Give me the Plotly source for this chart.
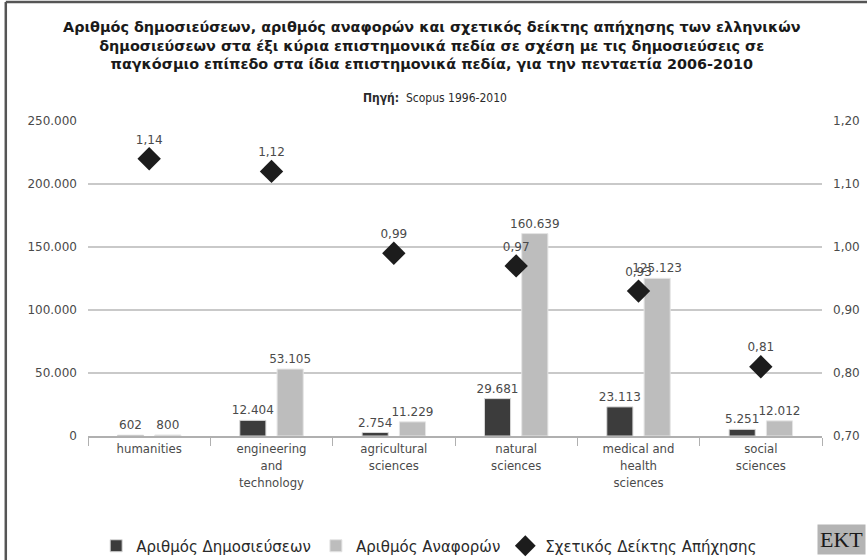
import plotly.graph_objects as go

# data
fields = ["humanities", "engineering<br>and<br>technology", "agricultural<br>sciences",
          "natural<br>sciences", "medical and<br>health<br>sciences", "social<br>sciences"]
publications = [602, 12404, 2754, 29681, 23113, 5251]
citations = [800, 53105, 11229, 160639, 125123, 12012]
impact_index = [1.14, 1.12, 0.99, 0.97, 0.93, 0.81]

left_ticks = [0, 50000, 100000, 150000, 200000, 250000]
right_ticks = [0.7, 0.8, 0.9, 1.0, 1.1, 1.2]

label_font = dict(family="DejaVu Sans", size=12, color="#4a4a4a")

fig = go.Figure()

fig.add_trace(go.Bar(
    x=fields, y=publications, name="Αριθμός Δημοσιεύσεων",
    marker=dict(color="#3c3c3c", line=dict(color="#d8d8d8", width=1)),
    text=publications, texttemplate="%{y:,.0f}", textposition="outside",
    constraintext="none", textfont=label_font, cliponaxis=False,
))
fig.add_trace(go.Bar(
    x=fields, y=citations, name="Αριθμός Αναφορών",
    marker=dict(color="#bdbdbd", line=dict(color="#e4e4e4", width=1)),
    text=citations, texttemplate="%{y:,.0f}", textposition="outside",
    constraintext="none", textfont=label_font, cliponaxis=False,
))
fig.add_trace(go.Scatter(
    x=fields, y=impact_index, name="Σχετικός Δείκτης Απήχησης", yaxis="y2",
    mode="markers+text", marker=dict(symbol="diamond", size=18, color="#1c1c1c"),
    text=[f"{v:.2f}".replace(".", ",") for v in impact_index],
    textposition="top center", textfont=label_font, cliponaxis=False,
))

title_text = ("<b>Αριθμός δημοσιεύσεων, αριθμός αναφορών και σχετικός δείκτης απήχησης των ελληνικών<br>"
              "δημοσιεύσεων στα έξι κύρια επιστημονικά πεδία σε σχέση με τις δημοσιεύσεις σε<br>"
              "παγκόσμιο επίπεδο στα ίδια επιστημονικά πεδία, για την πενταετία 2006-2010</b>")

fig.update_layout(
    width=867, height=560,
    margin=dict(l=88, r=45, t=121, b=124),
    paper_bgcolor="white", plot_bgcolor="white",
    separators=",.",
    barmode="group", bargap=0.39, bargroupgap=0.3,
    font=dict(family="DejaVu Sans", size=12, color="#4a4a4a"),
    title=dict(text=title_text, x=0.498, xanchor="center", y=0.943, yanchor="top",
               font=dict(family="DejaVu Sans", size=14.4, color="#1a1a1a")),
    xaxis=dict(showgrid=False, showline=True, linecolor="#b0b0b0", linewidth=1.5,
               ticks="outside", tickson="boundaries", ticklen=8, tickcolor="#b0b0b0",
               automargin=False,
               tickfont=dict(family="DejaVu Sans Condensed", size=13, color="#4a4a4a")),
    yaxis=dict(range=[0, 250000], tickvals=left_ticks, tickformat=",.0f",
               showgrid=True, gridcolor="#c9c9c9", gridwidth=1.5, zeroline=False,
               ticks="", ticklabelstandoff=10, automargin=False,
               tickfont=dict(size=12, color="#4a4a4a")),
    yaxis2=dict(range=[0.7, 1.2], tickvals=right_ticks, tickformat=".2f",
                overlaying="y", side="right", showgrid=False, zeroline=False,
                ticklabelstandoff=10, automargin=False,
                tickfont=dict(size=12, color="#4a4a4a")),
    legend=dict(orientation="h", xref="container", yref="container",
                x=0.495, xanchor="center", y=0.025, yanchor="middle",
                font=dict(family="DejaVu Sans", size=15, color="#2a2a2a"),
                itemwidth=30, traceorder="normal"),
    showlegend=True,
)

fig.add_annotation(text="<b>Πηγή:</b>  Scopus 1996-2010", xref="paper", yref="paper",
                   x=0.473, y=1.072, xanchor="center", yanchor="middle", showarrow=False,
                   font=dict(family="DejaVu Sans Condensed", size=12, color="#2a2a2a"))

# EKT logo box
fig.add_annotation(text="EKT", xref="paper", yref="paper", x=1.06, y=-0.33,
                   xanchor="right", yanchor="middle", showarrow=False,
                   bgcolor="#b4b4b4", borderpad=2,
                   font=dict(family="Liberation Serif", size=22, color="#1a1a1a"))

# outer frame: left and top edges
fig.add_shape(type="line", xref="paper", yref="paper", x0=-0.112, x1=-0.112, y0=-0.5, y1=1.378,
              line=dict(color="#555555", width=2.5))
fig.add_shape(type="line", xref="paper", yref="paper", x0=-0.112, x1=1.07, y0=1.378, y1=1.378,
              line=dict(color="#555555", width=2.5))

# drop the browser's default body margin so the figure fills the window
fig.write_html("out.html", config={"displayModeBar": False},
               post_script="document.body.style.margin='0';")
